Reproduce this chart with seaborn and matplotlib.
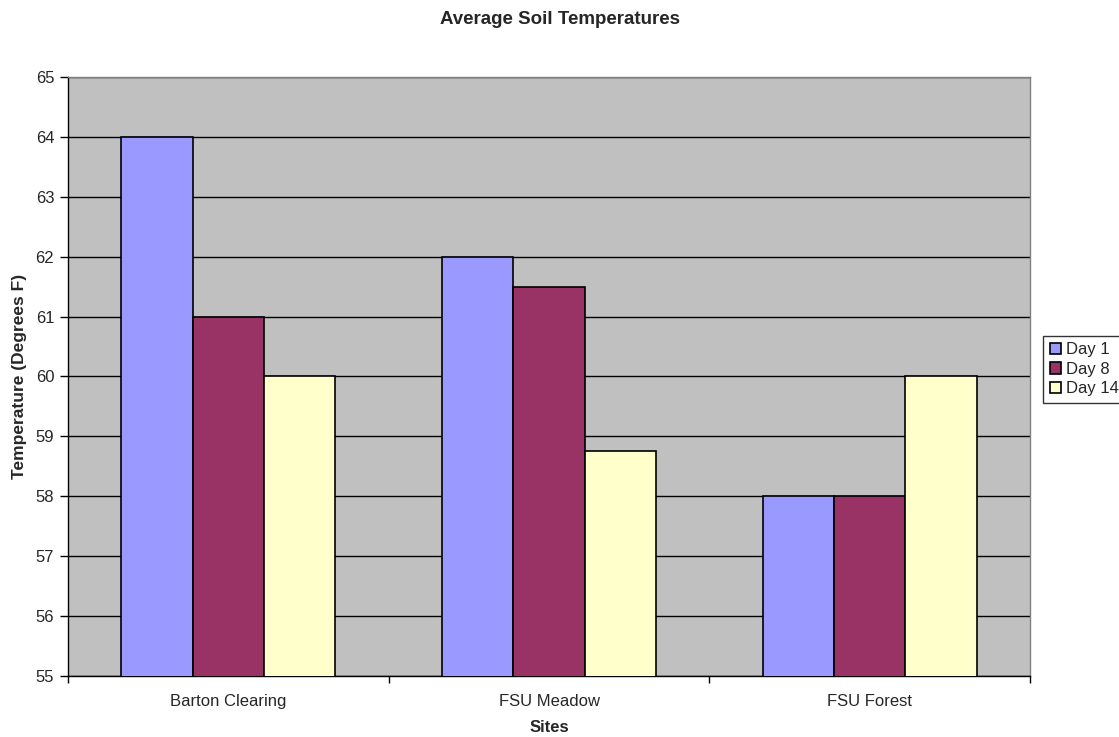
import matplotlib
matplotlib.use("Agg")
import matplotlib.pyplot as plt
import seaborn as sns
import pandas as pd
from matplotlib.ticker import FixedLocator

sites = ["Barton Clearing", "FSU Meadow", "FSU Forest"]
days = ["Day 1", "Day 8", "Day 14"]
day1 = [64, 62, 58]
day8 = [61, 61.5, 58]
day14 = [60, 58.75, 60]

rows = []
for d, vals in zip(days, [day1, day8, day14]):
    for s, v in zip(sites, vals):
        rows.append({"Site": s, "Day": d, "Temp": v})
df = pd.DataFrame(rows)

sns.set_style("white")
plt.rcParams["font.family"] = ["Liberation Sans", "DejaVu Sans"]

fig = plt.figure(figsize=(11.19, 7.37), dpi=100)
ax = fig.add_axes([0.0608, 0.0828, 0.9205 - 0.0608, 0.8955 - 0.0828])
ax.set_facecolor("#C0C0C0")

palette = ["#9999FF", "#993366", "#FFFFCC"]
sns.barplot(data=df, x="Site", y="Temp", hue="Day", order=sites, hue_order=days,
            palette=palette, width=0.667, edgecolor="black", linewidth=1.2,
            saturation=1, ax=ax, zorder=3)

ax.set_ylim(55, 65)
ax.set_xlim(-0.5, 2.5)
ax.set_yticks(range(55, 66))
ax.yaxis.grid(True, color="black", linewidth=1, zorder=0)
ax.set_axisbelow(True)

# category ticks sit between groups
ax.set_xticks([0, 1, 2])
ax.tick_params(axis="x", which="major", length=0, labelsize=12, pad=13)
ax.xaxis.set_minor_locator(FixedLocator([-0.5, 0.5, 1.5, 2.5]))
ax.tick_params(axis="x", which="minor", length=5, direction="out", color="black", width=1, bottom=True)
ax.tick_params(axis="y", length=6, direction="out", color="black", width=1, labelsize=12, left=True, pad=4)

for sp in ["left", "bottom"]:
    ax.spines[sp].set_color("black")
    ax.spines[sp].set_linewidth(1)
for sp in ["top", "right"]:
    ax.spines[sp].set_color("#808080")
    ax.spines[sp].set_linewidth(1)

ax.set_xlabel("Sites", fontsize=12, fontweight="bold", labelpad=8)
ax.set_ylabel("Temperature (Degrees F)", fontsize=12.5, fontweight="bold", labelpad=6)
fig.suptitle("Average Soil Temperatures", fontsize=13.5, fontweight="bold", y=0.985)

leg = ax.legend(loc="center left", bbox_to_anchor=(1.0135, 0.512), frameon=True,
                fancybox=False, edgecolor="black", fontsize=12, handlelength=0.7,
                handleheight=0.7, handletextpad=0.3, borderpad=0.4, labelspacing=0.27,
                borderaxespad=0)
leg.get_frame().set_linewidth(1)

fig.savefig("out.png", dpi=100, facecolor="white")
